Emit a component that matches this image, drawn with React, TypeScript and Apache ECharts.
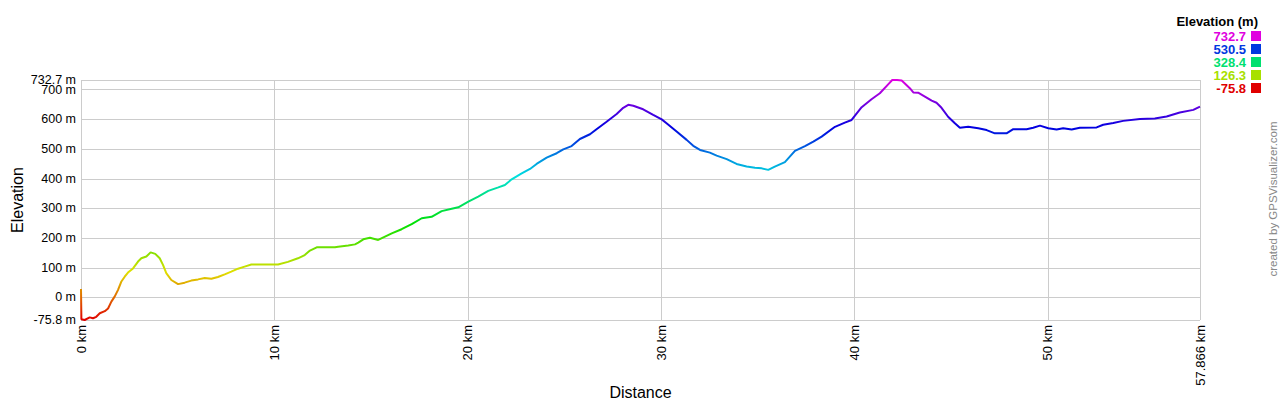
import React, { useEffect, useRef } from "react";
import * as echarts from "echarts";

// Distance along the track (km)
const distanceKm = [
  0.0, 0.02, 0.19, 0.45, 0.62, 0.79, 0.97, 1.23, 1.4, 1.57, 1.74, 1.91, 2.08, 2.26, 2.43, 2.69, 2.95, 3.12, 3.38, 3.6,
  3.84, 4.07, 4.24, 4.41, 4.67, 5.02, 5.36, 5.7, 6.05, 6.4, 6.74, 7.08, 7.43, 7.77, 8.12, 8.46, 8.81, 9.5, 10.19, 10.7,
  11.22, 11.57, 11.84, 12.19, 13.13, 13.3, 13.82, 14.17, 14.34, 14.6, 14.94, 15.37, 15.72, 16.07, 16.58, 17.1, 17.62, 18.13, 18.65, 19.17,
  19.51, 20.03, 20.54, 21.06, 21.58, 21.92, 22.27, 22.79, 23.22, 23.56, 24.08, 24.6, 24.94, 25.37, 25.8, 26.32, 26.66, 27.18, 27.7, 28.04,
  28.3, 28.56, 29.07, 29.59, 30.03, 30.28, 30.8, 31.32, 31.66, 32.01, 32.52, 32.87, 33.39, 33.9, 34.42, 34.85, 35.2, 35.54, 35.88, 36.4,
  36.92, 37.44, 37.87, 38.3, 38.99, 39.5, 39.85, 40.37, 40.88, 41.31, 41.74, 41.95, 42.2, 42.44, 42.86, 43.04, 43.29, 43.64, 43.99, 44.24,
  44.5, 44.84, 45.19, 45.45, 45.88, 46.4, 46.83, 47.26, 47.86, 48.21, 48.9, 49.24, 49.59, 50.02, 50.45, 50.79, 51.23, 51.65, 52.52, 52.86,
  53.38, 53.89, 54.76, 55.53, 56.14, 56.82, 57.52, 57.866,
];

// Elevation (m)
const elevationM = [
  29, -73, -75.8, -67, -70, -65, -53, -46, -37, -14, 3, 25, 53, 70, 84, 98, 121, 132, 138, 152,
  147, 132, 110, 82, 59, 45, 50, 57, 61, 66, 63, 69, 78, 87, 97, 104, 111, 111, 111, 120,
  132, 143, 158, 169, 169, 171, 175, 179, 185, 196, 201, 194, 205, 216, 230, 247, 267, 272, 291, 299,
  304, 323, 340, 359, 371, 379, 398, 418, 433, 450, 471, 486, 499, 510, 534, 550, 567, 592, 618, 639,
  649, 646, 634, 615, 600, 587, 559, 531, 511, 497, 488, 478, 466, 450, 441, 437, 435, 430, 441, 456,
  494, 510, 525, 542, 575, 589, 598, 641, 668, 688, 718, 732.7, 732.7, 731, 705, 691, 690, 677, 663, 656,
  639, 609, 587, 572, 575, 570, 564, 553, 553, 567, 567, 572, 579, 570, 566, 570, 566, 572, 573, 582,
  588, 595, 601, 603, 610, 623, 632, 643,
];

const elevMin = -75.8;
const elevMax = 732.7;
const distMax = 57.866;

// Legend values (top right)
const legendValues = [732.7, 530.5, 328.4, 126.3, -75.8];

const hueColor = (v: number) => {
  const t = (v - elevMin) / (elevMax - elevMin);
  return `hsl(${Math.round(t * 300)}, 100%, 44%)`;
};

const FONT = "Arial, 'Liberation Sans', sans-serif";
const fmtM = (v: number) => `${Math.round(v * 10) / 10} m`;

export default function App() {
  const ref = useRef<HTMLDivElement>(null);

  useEffect(() => {
    if (!ref.current) return;
    const chart = echarts.init(ref.current, undefined, { renderer: "svg" });

    const data = distanceKm.map((d, i) => [d, elevationM[i]]);
    const stops: string[] = [];
    for (let h = 0; h <= 300; h += 15) stops.push(`hsl(${h}, 100%, 44%)`);

    const legendGraphics: any[] = [
      {
        type: "text",
        right: 22,
        top: 15,
        style: { text: "Elevation (m)", font: `bold 13px ${FONT}`, fill: "#000" },
      },
    ];
    legendValues.forEach((v, i) => {
      const cy = 36 + i * 13;
      legendGraphics.push({
        type: "text",
        x: 1246,
        y: cy,
        style: {
          text: v.toFixed(1),
          font: `bold 13px ${FONT}`,
          fill: hueColor(v),
          textAlign: "right",
          textVerticalAlign: "middle",
        },
      });
      legendGraphics.push({
        type: "rect",
        shape: { x: 1251, y: cy - 5, width: 10, height: 10 },
        style: { fill: hueColor(v) },
      });
    });
    legendGraphics.push({
      type: "text",
      x: 1273,
      y: 199,
      rotation: Math.PI / 2,
      style: {
        text: "created by GPSVisualizer.com",
        font: `11.5px ${FONT}`,
        fill: "#888",
        textAlign: "center",
        textVerticalAlign: "middle",
      },
    });

    const yLabelBase = {
      margin: 5,
      fontFamily: FONT,
      fontSize: 12.5,
      lineHeight: 12.5,
      color: "#000",
      hideOverlap: false,
    };

    chart.setOption({
      animation: false,
      grid: {
        left: 81,
        right: 80,
        top: 80,
        bottom: 80,
        containLabel: false,
        outerBoundsMode: "none",
      },
      visualMap: {
        type: "continuous",
        show: false,
        dimension: 1,
        seriesIndex: 0,
        min: elevMin,
        max: elevMax,
        inRange: { color: stops },
      },
      xAxis: {
        type: "value",
        min: 0,
        max: distMax,
        interval: 10,
        name: "Distance",
        nameLocation: "middle",
        nameGap: 64,
        nameMoveOverlap: false,
        nameTextStyle: { fontFamily: FONT, fontSize: 16, color: "#000" },
        axisLine: { show: false },
        axisTick: { show: false },
        axisLabel: {
          rotate: 90,
          margin: 5,
          fontFamily: FONT,
          fontSize: 13,
          color: "#000",
          showMinLabel: true,
          showMaxLabel: true,
          hideOverlap: false,
          formatter: (v: number) => `${Math.round(v * 1000) / 1000} km`,
        },
        splitLine: { show: true, lineStyle: { color: "#cccccc", width: 1 } },
      },
      yAxis: [
        {
          type: "value",
          position: "left",
          min: elevMin,
          max: elevMax,
          splitNumber: 8,
          minInterval: 100,
          maxInterval: 100,
          name: "Elevation",
          nameLocation: "middle",
          nameGap: 56,
          nameMoveOverlap: false,
          nameTextStyle: { fontFamily: FONT, fontSize: 16, color: "#000" },
          axisLine: { show: false },
          axisTick: { show: false },
          axisLabel: {
            ...yLabelBase,
            showMinLabel: true,
            showMaxLabel: false,
            formatter: fmtM,
          },
          splitLine: { show: true, lineStyle: { color: "#cccccc", width: 1 } },
        },
        {
          type: "value",
          position: "left",
          offset: 0,
          min: elevMin,
          max: elevMax,
          splitNumber: 8,
          minInterval: 100,
          maxInterval: 100,
          axisLine: { show: false },
          axisTick: { show: false },
          splitLine: { show: false },
          axisLabel: {
            ...yLabelBase,
            padding: [0, 0, 7, 0],
            showMinLabel: false,
            showMaxLabel: true,
            formatter: (v: number) => (Math.abs(v - elevMax) < 1e-6 ? fmtM(v) : ""),
          },
        },
      ],
      graphic: legendGraphics,
      series: [
        {
          type: "line",
          yAxisIndex: 0,
          data,
          showSymbol: false,
          lineStyle: { width: 2 },
        },
      ],
    });

    return () => chart.dispose();
  }, []);

  return (
    <div
      ref={ref}
      style={{ position: "absolute", left: 0, top: 0, width: 1280, height: 400, background: "#fff" }}
    />
  );
}
